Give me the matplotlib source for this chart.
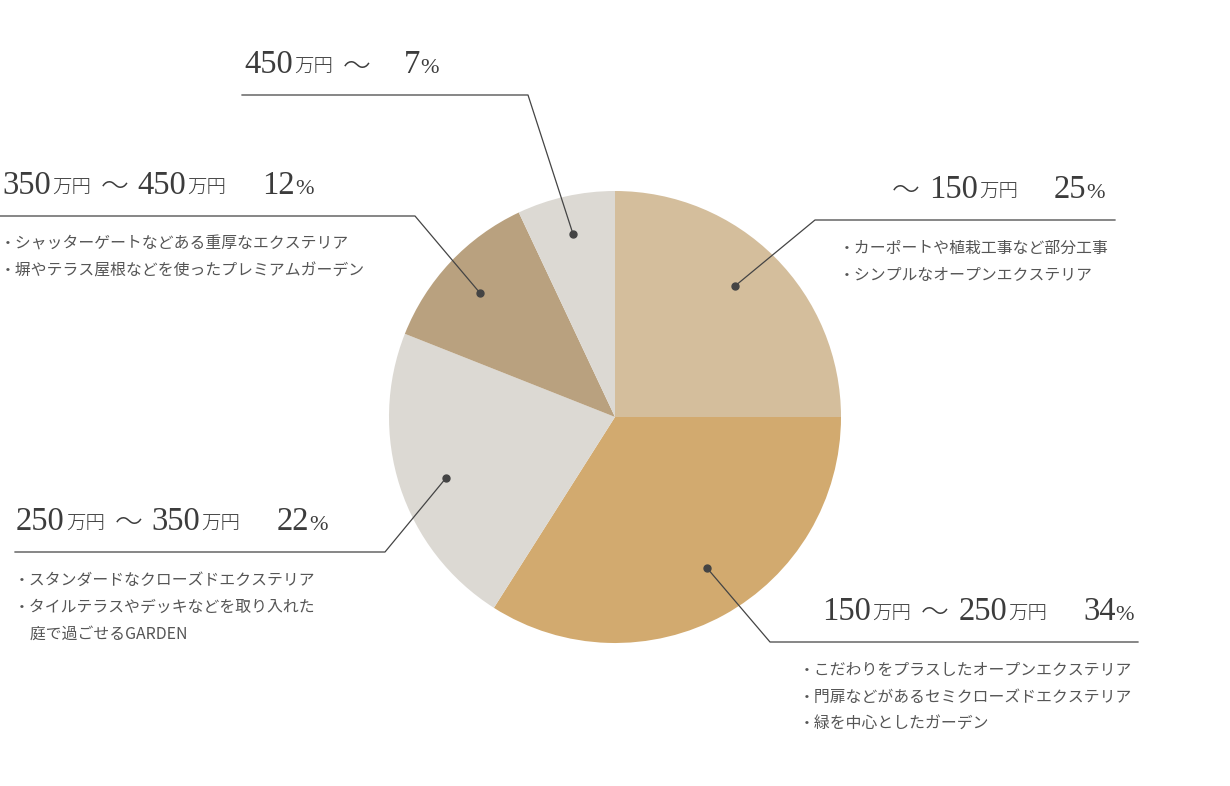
import matplotlib
matplotlib.use("Agg")
import matplotlib.pyplot as plt
from matplotlib.offsetbox import TextArea, HPacker, DrawingArea, AnnotationBbox
from matplotlib.text import Text

# data
shares = [25, 34, 22, 12, 7]
range_lo = [None, "150", "250", "350", "450"]
range_hi = ["150", "250", "350", "450", None]
colors = ["#d4be9c", "#d2aa6f", "#dcd9d3", "#b9a17f", "#dcd9d3"]
notes = [
    ["・カーポートや植栽工事など部分工事", "・シンプルなオープンエクステリア"],
    ["・こだわりをプラスしたオープンエクステリア", "・門扉などがあるセミクローズドエクステリア", "・緑を中心としたガーデン"],
    ["・スタンダードなクローズドエクステリア", "・タイルテラスやデッキなどを取り入れた", "　庭で過ごせるGARDEN"],
    ["・シャッターゲートなどある重厚なエクステリア", "・塀やテラス屋根などを使ったプレミアムガーデン"],
    [],
]

# layout (pixels, y from top): dot, elbow, far end of line, align
leaders = [
    ((735, 286), (815, 220), 1115, "right"),
    ((707, 568), (770, 642), 1138, "right"),
    ((446, 478), (385, 552), 15, "left"),
    ((480, 293), (415, 216), 0, "left"),
    ((573, 234), (528, 95), 242, "left"),
]
head_x = [1105, 1134, 16, 2, 244]
note_x = [839, 799, 14, 0, 0]

W, H = 1230, 786
PT = 72 / 100  # pixels -> points
fig = plt.figure(figsize=(12.3, 7.86), dpi=100)
ax = fig.add_axes([0, 0, 1, 1])

# y axis is inverted below, so start at -90 and go "counterclock" = clockwise on screen
ax.pie(shares, colors=colors, startangle=-90, counterclock=True,
       center=(615, 417), radius=226, wedgeprops=dict(linewidth=0))
ax.set_xlim(0, W)
ax.set_ylim(H, 0)
ax.set_aspect("equal")
ax.axis("off")

line_c = "#444444"
text_c = "#3c3c3c"
note_c = "#555555"
big = dict(family="Liberation Serif", size=23.5, color=text_c)
small = dict(family="Noto Sans CJK JP", size=14, weight="light", color=text_c)
pct = dict(family="Liberation Serif", size=16, color=text_c)


def spacer(w):
    return DrawingArea(w * PT, 0)


def wave(left, right):
    # wave dash, thin and centred at digit mid-height
    w = left + 27 + right
    da = DrawingArea(w * PT, 14 * PT, 0, 0)
    da.add_artist(Text((left + 13.5) * PT, 6.5 * PT, "〜", ha="center", va="center",
                       family="Noto Sans CJK JP", size=20, weight="light", color=text_c))
    return da


for i in range(len(shares)):
    dot, elbow, end, align = leaders[i]
    ax.plot([dot[0], elbow[0], end], [dot[1], elbow[1], elbow[1]], color=line_c, lw=0.9)
    ax.plot(dot[0], dot[1], "o", color=line_c, ms=5)

    parts = []
    if range_lo[i]:
        parts += [TextArea(range_lo[i], textprops=big), spacer(1), TextArea("万円", textprops=small)]
    parts += [wave(10 if range_lo[i] else 0, 10 if range_hi[i] else 0)]
    if range_hi[i]:
        parts += [TextArea(range_hi[i], textprops=big), spacer(1), TextArea("万円", textprops=small)]
    parts += [spacer(36 if range_hi[i] else 34), TextArea(str(shares[i]), textprops=big),
              TextArea("%", textprops=pct)]
    box = HPacker(children=parts, align="baseline", pad=0, sep=0)
    ha = 1 if align == "right" else 0
    ab = AnnotationBbox(box, (head_x[i], elbow[1] - 15), xycoords="data",
                        box_alignment=(ha, 0), frameon=False, pad=0)
    ax.add_artist(ab)

    for k, s in enumerate(notes[i]):
        ax.text(note_x[i], elbow[1] + 33 + 27 * k, s, family="Noto Sans CJK JP",
                size=11.4, color=note_c, va="baseline", ha="left")

fig.savefig("out.png", dpi=100, facecolor="white")
